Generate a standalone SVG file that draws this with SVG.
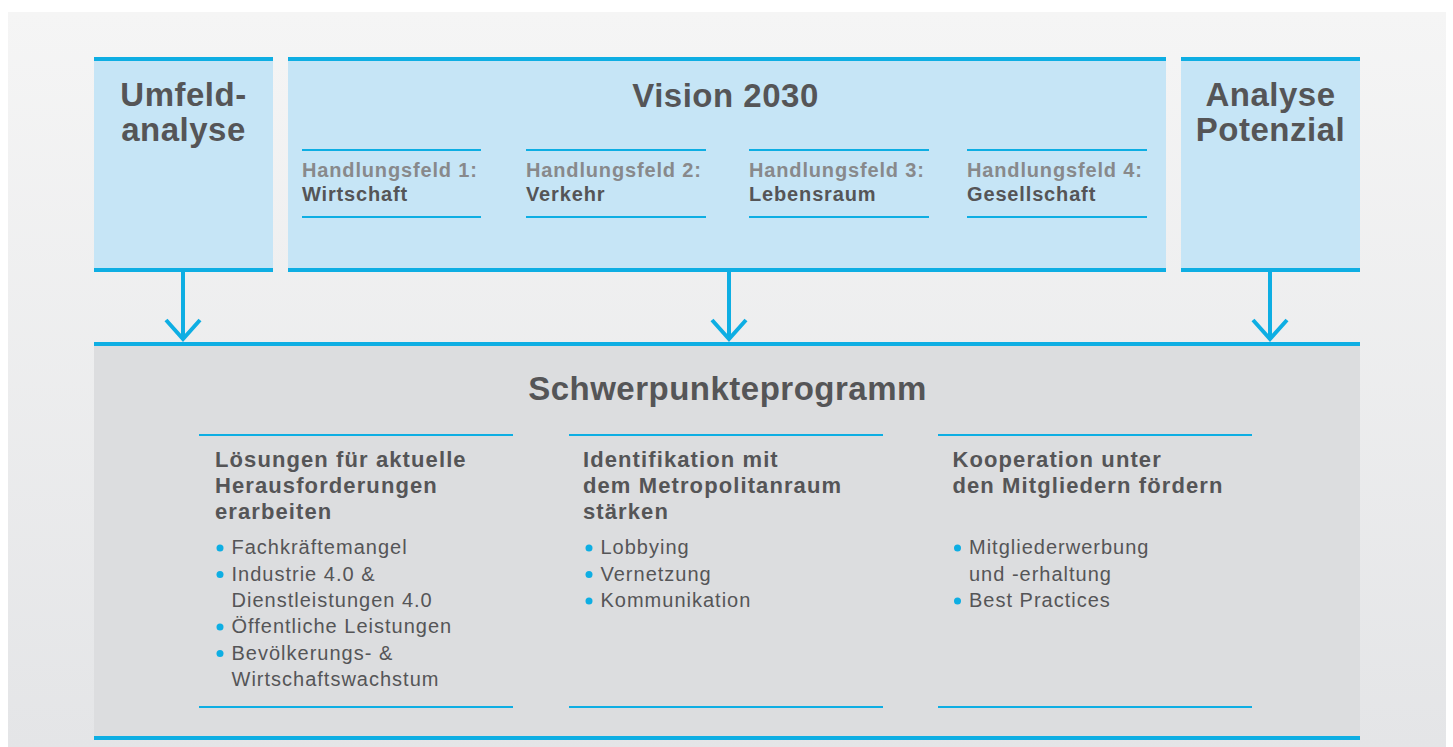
<svg xmlns="http://www.w3.org/2000/svg" width="1453" height="747" viewBox="0 0 1453 747">
  <defs>
    <linearGradient id="bg" x1="0" y1="0" x2="0" y2="1">
      <stop offset="0" stop-color="#f5f5f5"/>
      <stop offset="1" stop-color="#e4e5e7"/>
    </linearGradient>
    <style>
      .box { fill: #c6e5f6; }
      .grey { fill: #dcdddf; }
      .bar { fill: #0eaee3; }
      .thin { stroke: #0eaee3; stroke-width: 2; }
      .title { font-family: "Liberation Sans", Arial, sans-serif; font-weight: bold; font-size: 33px; fill: #555557; letter-spacing: 0.5px; text-anchor: middle; }
      .hf { font-family: "Liberation Sans", Arial, sans-serif; font-weight: bold; font-size: 20px; letter-spacing: 0.85px; }
      .hf1 { fill: #88898b; }
      .hf2 { fill: #555557; }
      .head { font-family: "Liberation Sans", Arial, sans-serif; font-weight: bold; font-size: 22px; letter-spacing: 1.1px; fill: #555557; }
      .item { font-family: "Liberation Sans", Arial, sans-serif; font-size: 20px; letter-spacing: 1px; fill: #555557; }
      .dot { fill: #0eaee3; }
      .arrow { stroke: #0eaee3; stroke-width: 4; fill: none; }
    </style>
  </defs>

  <rect x="0" y="0" width="1453" height="747" fill="#ffffff"/>
  <rect x="8" y="12" width="1438" height="735" fill="url(#bg)"/>

  <g id="umfeldanalyse">
    <rect class="box" x="94" y="57" width="179" height="215"/>
    <rect class="bar" x="94" y="57" width="179" height="4"/>
    <rect class="bar" x="94" y="268" width="179" height="4"/>
    <text class="title" x="183.5" y="106">Umfeld-</text>
    <text class="title" x="183.5" y="140.5">analyse</text>
  </g>

  <g id="vision2030">
    <rect class="box" x="288" y="57" width="878" height="215"/>
    <rect class="bar" x="288" y="57" width="878" height="4"/>
    <rect class="bar" x="288" y="268" width="878" height="4"/>
    <text class="title" x="725.5" y="107">Vision 2030</text>
    <g id="hf1">
      <line class="thin" x1="302" y1="150" x2="481" y2="150"/>
      <line class="thin" x1="302" y1="217" x2="481" y2="217"/>
      <text class="hf hf1" x="302" y="177">Handlungsfeld 1:</text>
      <text class="hf hf2" x="302" y="201">Wirtschaft</text>
    </g>
    <g id="hf2">
      <line class="thin" x1="526" y1="150" x2="706" y2="150"/>
      <line class="thin" x1="526" y1="217" x2="706" y2="217"/>
      <text class="hf hf1" x="526" y="177">Handlungsfeld 2:</text>
      <text class="hf hf2" x="526" y="201">Verkehr</text>
    </g>
    <g id="hf3">
      <line class="thin" x1="749" y1="150" x2="929" y2="150"/>
      <line class="thin" x1="749" y1="217" x2="929" y2="217"/>
      <text class="hf hf1" x="749" y="177">Handlungsfeld 3:</text>
      <text class="hf hf2" x="749" y="201">Lebensraum</text>
    </g>
    <g id="hf4">
      <line class="thin" x1="967" y1="150" x2="1147" y2="150"/>
      <line class="thin" x1="967" y1="217" x2="1147" y2="217"/>
      <text class="hf hf1" x="967" y="177">Handlungsfeld 4:</text>
      <text class="hf hf2" x="967" y="201">Gesellschaft</text>
    </g>
  </g>

  <g id="analysepotenzial">
    <rect class="box" x="1181" y="57" width="179" height="215"/>
    <rect class="bar" x="1181" y="57" width="179" height="4"/>
    <rect class="bar" x="1181" y="268" width="179" height="4"/>
    <text class="title" x="1270.5" y="106">Analyse</text>
    <text class="title" x="1270.5" y="140.5">Potenzial</text>
  </g>

  <g id="connectors">
    <line class="arrow" x1="183" y1="272" x2="183" y2="339"/>
    <polyline class="arrow" points="166,320 183,339 200,320"/>
    <line class="arrow" x1="729" y1="272" x2="729" y2="339"/>
    <polyline class="arrow" points="712,320 729,339 746,320"/>
    <line class="arrow" x1="1270" y1="272" x2="1270" y2="339"/>
    <polyline class="arrow" points="1253,320 1270,339 1287,320"/>
  </g>

  <g id="schwerpunkteprogramm">
    <rect class="grey" x="94" y="342" width="1266" height="398"/>
    <rect class="bar" x="94" y="342" width="1266" height="4"/>
    <rect class="bar" x="94" y="736" width="1266" height="4"/>
    <text class="title" x="727.5" y="400">Schwerpunkteprogramm</text>

    <g id="col1">
      <line class="thin" x1="199" y1="435" x2="513" y2="435"/>
      <line class="thin" x1="199" y1="707" x2="513" y2="707"/>
      <text class="head" x="215" y="466.5">Lösungen für aktuelle</text>
      <text class="head" x="215" y="492.5">Herausforderungen</text>
      <text class="head" x="215" y="518.5">erarbeiten</text>
      <circle class="dot" cx="220" cy="548" r="3.5"/>
      <text class="item" x="231.5" y="554">Fachkräftemangel</text>
      <circle class="dot" cx="220" cy="574.5" r="3.5"/>
      <text class="item" x="231.5" y="580.5">Industrie 4.0 &amp;</text>
      <text class="item" x="231.5" y="607">Dienstleistungen 4.0</text>
      <circle class="dot" cx="220" cy="627" r="3.5"/>
      <text class="item" x="231.5" y="633">Öffentliche Leistungen</text>
      <circle class="dot" cx="220" cy="653.5" r="3.5"/>
      <text class="item" x="231.5" y="659.5">Bevölkerungs- &amp;</text>
      <text class="item" x="231.5" y="686">Wirtschaftswachstum</text>
    </g>

    <g id="col2">
      <line class="thin" x1="569" y1="435" x2="883" y2="435"/>
      <line class="thin" x1="569" y1="707" x2="883" y2="707"/>
      <text class="head" x="583" y="466.5">Identifikation mit</text>
      <text class="head" x="583" y="492.5">dem Metropolitanraum</text>
      <text class="head" x="583" y="518.5">stärken</text>
      <circle class="dot" cx="589" cy="548" r="3.5"/>
      <text class="item" x="600.5" y="554">Lobbying</text>
      <circle class="dot" cx="589" cy="574.5" r="3.5"/>
      <text class="item" x="600.5" y="580.5">Vernetzung</text>
      <circle class="dot" cx="589" cy="601" r="3.5"/>
      <text class="item" x="600.5" y="607">Kommunikation</text>
    </g>

    <g id="col3">
      <line class="thin" x1="938" y1="435" x2="1252" y2="435"/>
      <line class="thin" x1="938" y1="707" x2="1252" y2="707"/>
      <text class="head" x="952.5" y="466.5">Kooperation unter</text>
      <text class="head" x="952.5" y="492.5">den Mitgliedern fördern</text>
      <circle class="dot" cx="957.5" cy="548" r="3.5"/>
      <text class="item" x="969" y="554">Mitgliederwerbung</text>
      <text class="item" x="969" y="580.5">und -erhaltung</text>
      <circle class="dot" cx="957.5" cy="601" r="3.5"/>
      <text class="item" x="969" y="607">Best Practices</text>
    </g>
  </g>
</svg>
